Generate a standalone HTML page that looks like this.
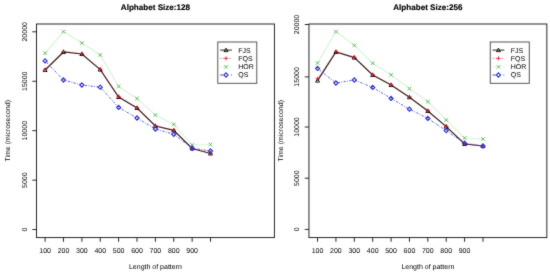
<!DOCTYPE html>
<html><head><meta charset="utf-8"><title>Alphabet Size plots</title><style>
html,body{margin:0;padding:0;background:#fff;width:550px;height:275px;overflow:hidden}
svg{display:block}
text{font-family:"Liberation Sans",Arial,Helvetica,sans-serif;fill:#000;text-rendering:geometricPrecision}
</style></head><body>
<svg width="550" height="275" viewBox="0 0 550 275">
<defs><filter id="bl" x="0" y="0" width="550" height="275" filterUnits="userSpaceOnUse" color-interpolation-filters="sRGB"><feConvolveMatrix order="3" kernelMatrix="1 2 1 2 24 2 1 2 1" edgeMode="duplicate" preserveAlpha="false"/></filter></defs>
<g filter="url(#bl)">
<rect width="550" height="275" fill="#fff"/>
<g>
<text x="155.45" y="9.85" font-size="8.1" font-weight="bold" text-anchor="middle" stroke="#000" stroke-width="0.15">Alphabet Size:128</text>
<polyline points="45.1,70 63.48,52 81.86,54 100.24,69.6 118.62,97 137,108 155.38,126 173.76,130.4 192.14,148.5 210.52,153.5" fill="none" stroke="#222222" stroke-width="1.2" stroke-opacity="1"/>
<path d="M45.1,68.1L47.09,71.52L43.11,71.52Z" fill="none" stroke="#000000" stroke-width="0.9"/><path d="M63.48,50.1L65.48,53.52L61.49,53.52Z" fill="none" stroke="#000000" stroke-width="0.9"/><path d="M81.86,52.1L83.86,55.52L79.86,55.52Z" fill="none" stroke="#000000" stroke-width="0.9"/><path d="M100.24,67.7L102.24,71.12L98.25,71.12Z" fill="none" stroke="#000000" stroke-width="0.9"/><path d="M118.62,95.1L120.62,98.52L116.62,98.52Z" fill="none" stroke="#000000" stroke-width="0.9"/><path d="M137,106.1L139,109.52L135,109.52Z" fill="none" stroke="#000000" stroke-width="0.9"/><path d="M155.38,124.1L157.38,127.52L153.38,127.52Z" fill="none" stroke="#000000" stroke-width="0.9"/><path d="M173.76,128.5L175.75,131.92L171.76,131.92Z" fill="none" stroke="#000000" stroke-width="0.9"/><path d="M192.14,146.6L194.13,150.02L190.14,150.02Z" fill="none" stroke="#000000" stroke-width="0.9"/><path d="M210.52,151.6L212.51,155.02L208.52,155.02Z" fill="none" stroke="#000000" stroke-width="0.9"/>

<polyline points="45.1,69.6 63.48,51.4 81.86,53.6 100.24,69.2 118.62,96.6 137,107.6 155.38,125.6 173.76,130 192.14,148.2 210.52,153.2" fill="none" stroke="#ff2020" stroke-width="0.9" stroke-opacity="0.5" stroke-dasharray="2,1.4"/>
<path d="M43,69.6H47.2M45.1,67.5V71.7" stroke="#dd1a2a" stroke-width="0.8" fill="none"/><path d="M61.38,51.4H65.58M63.48,49.3V53.5" stroke="#dd1a2a" stroke-width="0.8" fill="none"/><path d="M79.76,53.6H83.96M81.86,51.5V55.7" stroke="#dd1a2a" stroke-width="0.8" fill="none"/><path d="M98.14,69.2H102.34M100.24,67.1V71.3" stroke="#dd1a2a" stroke-width="0.8" fill="none"/><path d="M116.52,96.6H120.72M118.62,94.5V98.7" stroke="#dd1a2a" stroke-width="0.8" fill="none"/><path d="M134.9,107.6H139.1M137,105.5V109.7" stroke="#dd1a2a" stroke-width="0.8" fill="none"/><path d="M153.28,125.6H157.48M155.38,123.5V127.7" stroke="#dd1a2a" stroke-width="0.8" fill="none"/><path d="M171.66,130H175.86M173.76,127.9V132.1" stroke="#dd1a2a" stroke-width="0.8" fill="none"/><path d="M190.04,148.2H194.24M192.14,146.1V150.3" stroke="#dd1a2a" stroke-width="0.8" fill="none"/><path d="M208.42,153.2H212.62M210.52,151.1V155.3" stroke="#dd1a2a" stroke-width="0.8" fill="none"/>

<polyline points="45.1,53.2 63.48,31.6 81.86,43 100.24,55 118.62,86.4 137,98.6 155.38,115 173.76,124.4 192.14,145 210.52,144.5" fill="none" stroke="#e3f6e3" stroke-width="1.6" stroke-opacity="1"/>
<path d="M43.25,51.35L46.95,55.05M43.25,55.05L46.95,51.35" stroke="#3cb43c" stroke-width="0.8" fill="none"/><path d="M61.63,29.75L65.33,33.45M61.63,33.45L65.33,29.75" stroke="#3cb43c" stroke-width="0.8" fill="none"/><path d="M80.01,41.15L83.71,44.85M80.01,44.85L83.71,41.15" stroke="#3cb43c" stroke-width="0.8" fill="none"/><path d="M98.39,53.15L102.09,56.85M98.39,56.85L102.09,53.15" stroke="#3cb43c" stroke-width="0.8" fill="none"/><path d="M116.77,84.55L120.47,88.25M116.77,88.25L120.47,84.55" stroke="#3cb43c" stroke-width="0.8" fill="none"/><path d="M135.15,96.75L138.85,100.45M135.15,100.45L138.85,96.75" stroke="#3cb43c" stroke-width="0.8" fill="none"/><path d="M153.53,113.15L157.23,116.85M153.53,116.85L157.23,113.15" stroke="#3cb43c" stroke-width="0.8" fill="none"/><path d="M171.91,122.55L175.61,126.25M171.91,126.25L175.61,122.55" stroke="#3cb43c" stroke-width="0.8" fill="none"/><path d="M190.29,143.15L193.99,146.85M190.29,146.85L193.99,143.15" stroke="#3cb43c" stroke-width="0.8" fill="none"/><path d="M208.67,142.65L212.37,146.35M208.67,146.35L212.37,142.65" stroke="#3cb43c" stroke-width="0.8" fill="none"/>

<polyline points="45.1,60.9 63.48,80 81.86,85 100.24,87.2 118.62,107.4 137,118 155.38,129 173.76,134.3 192.14,148.2 210.52,151" fill="none" stroke="#3a3ad8" stroke-width="1.0" stroke-opacity="0.85" stroke-dasharray="0.8,1.4,2.2,1.4"/>
<path d="M45.1,58.8L47.2,60.9L45.1,63L43,60.9Z" stroke="#3030cc" stroke-width="1.1" fill="none"/><path d="M63.48,77.9L65.58,80L63.48,82.1L61.38,80Z" stroke="#3030cc" stroke-width="1.1" fill="none"/><path d="M81.86,82.9L83.96,85L81.86,87.1L79.76,85Z" stroke="#3030cc" stroke-width="1.1" fill="none"/><path d="M100.24,85.1L102.34,87.2L100.24,89.3L98.14,87.2Z" stroke="#3030cc" stroke-width="1.1" fill="none"/><path d="M118.62,105.3L120.72,107.4L118.62,109.5L116.52,107.4Z" stroke="#3030cc" stroke-width="1.1" fill="none"/><path d="M137,115.9L139.1,118L137,120.1L134.9,118Z" stroke="#3030cc" stroke-width="1.1" fill="none"/><path d="M155.38,126.9L157.48,129L155.38,131.1L153.28,129Z" stroke="#3030cc" stroke-width="1.1" fill="none"/><path d="M173.76,132.2L175.86,134.3L173.76,136.4L171.66,134.3Z" stroke="#3030cc" stroke-width="1.1" fill="none"/><path d="M192.14,146.1L194.24,148.2L192.14,150.3L190.04,148.2Z" stroke="#3030cc" stroke-width="1.1" fill="none"/><path d="M210.52,148.9L212.62,151L210.52,153.1L208.42,151Z" stroke="#3030cc" stroke-width="1.1" fill="none"/>

<rect x="36.5" y="24.0" width="237.9" height="213.6" fill="none" stroke="#111" stroke-width="0.9"/>
<path d="M32.3,31.8H36.5" stroke="#111" stroke-width="0.9"/>
<text transform="translate(26.7,31.8) rotate(-90)" font-size="7.0" text-anchor="middle">20000</text>
<path d="M32.3,81.25H36.5" stroke="#111" stroke-width="0.9"/>
<text transform="translate(26.7,81.25) rotate(-90)" font-size="7.0" text-anchor="middle">15000</text>
<path d="M32.3,130.7H36.5" stroke="#111" stroke-width="0.9"/>
<text transform="translate(26.7,130.7) rotate(-90)" font-size="7.0" text-anchor="middle">10000</text>
<path d="M32.3,180.15H36.5" stroke="#111" stroke-width="0.9"/>
<text transform="translate(26.7,180.15) rotate(-90)" font-size="7.0" text-anchor="middle">5000</text>
<path d="M32.3,229.55H36.5" stroke="#111" stroke-width="0.9"/>
<text transform="translate(26.7,229.55) rotate(-90)" font-size="7.0" text-anchor="middle">0</text>
<path d="M45.1,237.6V241.8" stroke="#111" stroke-width="0.9"/>
<text x="45.1" y="252.6" font-size="7.0" text-anchor="middle">100</text>
<path d="M63.48,237.6V241.8" stroke="#111" stroke-width="0.9"/>
<text x="63.48" y="252.6" font-size="7.0" text-anchor="middle">200</text>
<path d="M81.86,237.6V241.8" stroke="#111" stroke-width="0.9"/>
<text x="81.86" y="252.6" font-size="7.0" text-anchor="middle">300</text>
<path d="M100.24,237.6V241.8" stroke="#111" stroke-width="0.9"/>
<text x="100.24" y="252.6" font-size="7.0" text-anchor="middle">400</text>
<path d="M118.62,237.6V241.8" stroke="#111" stroke-width="0.9"/>
<text x="118.62" y="252.6" font-size="7.0" text-anchor="middle">500</text>
<path d="M137,237.6V241.8" stroke="#111" stroke-width="0.9"/>
<text x="137" y="252.6" font-size="7.0" text-anchor="middle">600</text>
<path d="M155.38,237.6V241.8" stroke="#111" stroke-width="0.9"/>
<text x="155.38" y="252.6" font-size="7.0" text-anchor="middle">700</text>
<path d="M173.76,237.6V241.8" stroke="#111" stroke-width="0.9"/>
<text x="173.76" y="252.6" font-size="7.0" text-anchor="middle">800</text>
<path d="M192.14,237.6V241.8" stroke="#111" stroke-width="0.9"/>
<text x="192.14" y="252.6" font-size="7.0" text-anchor="middle">900</text>
<path d="M210.52,237.6V241.8" stroke="#111" stroke-width="0.9"/>
<text x="155.45" y="269" font-size="7.0" text-anchor="middle">Length of pattern</text>
<text transform="translate(10.4,130.8) rotate(-90)" font-size="7.0" text-anchor="middle">Time (microsecond)</text>
<rect x="217.8" y="42.0" width="39" height="41.3" fill="#fff" stroke="#444" stroke-width="0.9"/>
<path d="M220.1,50.1H231.9" stroke="#2a2a2a" stroke-width="1.0" stroke-opacity="1"/>
<path d="M226,48.2L228,51.62L224,51.62Z" fill="none" stroke="#000000" stroke-width="0.9"/>
<text x="238.3" y="52.55" font-size="7.0">FJS</text>
<path d="M220.1,58.4H231.9" stroke="#ff3030" stroke-width="0.9" stroke-opacity="0.75" stroke-dasharray="1.4,1.6"/>
<path d="M223.9,58.4H228.1M226,56.3V60.5" stroke="#dd1a2a" stroke-width="0.8" fill="none"/>
<text x="238.3" y="60.85" font-size="7.0">FQS</text>
<path d="M220.1,66.8H231.9" stroke="#c8ecc8" stroke-width="1.0" stroke-opacity="1" stroke-dasharray="1,1.5"/>
<path d="M224.15,64.95L227.85,68.65M224.15,68.65L227.85,64.95" stroke="#3cb43c" stroke-width="0.8" fill="none"/>
<text x="238.3" y="69.25" font-size="7.0">HOR</text>
<path d="M220.1,75H231.9" stroke="#3a3ad8" stroke-width="1.0" stroke-opacity="0.9" stroke-dasharray="3.2,7.6,1,5"/>
<path d="M226,72.9L228.1,75L226,77.1L223.9,75Z" stroke="#3030cc" stroke-width="1.1" fill="none"/>
<text x="238.3" y="77.45" font-size="7.0">QS</text>
</g>
<g transform="translate(272.45,0)">
<text x="155.45" y="9.85" font-size="8.1" font-weight="bold" text-anchor="middle" stroke="#000" stroke-width="0.15">Alphabet Size:256</text>
<polyline points="45.1,80.6 63.48,52 81.86,57.6 100.24,75 118.62,85 137,97.2 155.38,111 173.76,126.6 192.14,144 210.52,146" fill="none" stroke="#222222" stroke-width="1.2" stroke-opacity="1"/>
<path d="M45.1,78.7L47.09,82.12L43.11,82.12Z" fill="none" stroke="#000000" stroke-width="0.9"/><path d="M63.48,50.1L65.48,53.52L61.49,53.52Z" fill="none" stroke="#000000" stroke-width="0.9"/><path d="M81.86,55.7L83.86,59.12L79.86,59.12Z" fill="none" stroke="#000000" stroke-width="0.9"/><path d="M100.24,73.1L102.24,76.52L98.25,76.52Z" fill="none" stroke="#000000" stroke-width="0.9"/><path d="M118.62,83.1L120.62,86.52L116.62,86.52Z" fill="none" stroke="#000000" stroke-width="0.9"/><path d="M137,95.3L139,98.72L135,98.72Z" fill="none" stroke="#000000" stroke-width="0.9"/><path d="M155.38,109.1L157.38,112.52L153.38,112.52Z" fill="none" stroke="#000000" stroke-width="0.9"/><path d="M173.76,124.7L175.75,128.12L171.76,128.12Z" fill="none" stroke="#000000" stroke-width="0.9"/><path d="M192.14,142.1L194.13,145.52L190.14,145.52Z" fill="none" stroke="#000000" stroke-width="0.9"/><path d="M210.52,144.1L212.51,147.52L208.52,147.52Z" fill="none" stroke="#000000" stroke-width="0.9"/>

<polyline points="45.1,78.6 63.48,51.4 81.86,57.2 100.24,74.6 118.62,84.6 137,96.8 155.38,110.6 173.76,126.2 192.14,143.6 210.52,146" fill="none" stroke="#ff2020" stroke-width="0.9" stroke-opacity="0.5" stroke-dasharray="2,1.4"/>
<path d="M43,78.6H47.2M45.1,76.5V80.7" stroke="#dd1a2a" stroke-width="0.8" fill="none"/><path d="M61.38,51.4H65.58M63.48,49.3V53.5" stroke="#dd1a2a" stroke-width="0.8" fill="none"/><path d="M79.76,57.2H83.96M81.86,55.1V59.3" stroke="#dd1a2a" stroke-width="0.8" fill="none"/><path d="M98.14,74.6H102.34M100.24,72.5V76.7" stroke="#dd1a2a" stroke-width="0.8" fill="none"/><path d="M116.52,84.6H120.72M118.62,82.5V86.7" stroke="#dd1a2a" stroke-width="0.8" fill="none"/><path d="M134.9,96.8H139.1M137,94.7V98.9" stroke="#dd1a2a" stroke-width="0.8" fill="none"/><path d="M153.28,110.6H157.48M155.38,108.5V112.7" stroke="#dd1a2a" stroke-width="0.8" fill="none"/><path d="M171.66,126.2H175.86M173.76,124.1V128.3" stroke="#dd1a2a" stroke-width="0.8" fill="none"/><path d="M190.04,143.6H194.24M192.14,141.5V145.7" stroke="#dd1a2a" stroke-width="0.8" fill="none"/><path d="M208.42,146H212.62M210.52,143.9V148.1" stroke="#dd1a2a" stroke-width="0.8" fill="none"/>

<polyline points="45.1,63 63.48,31.6 81.86,45.4 100.24,63.2 118.62,74.8 137,88.6 155.38,101.6 173.76,120 192.14,138 210.52,139" fill="none" stroke="#e3f6e3" stroke-width="1.6" stroke-opacity="1"/>
<path d="M43.25,61.15L46.95,64.85M43.25,64.85L46.95,61.15" stroke="#3cb43c" stroke-width="0.8" fill="none"/><path d="M61.63,29.75L65.33,33.45M61.63,33.45L65.33,29.75" stroke="#3cb43c" stroke-width="0.8" fill="none"/><path d="M80.01,43.55L83.71,47.25M80.01,47.25L83.71,43.55" stroke="#3cb43c" stroke-width="0.8" fill="none"/><path d="M98.39,61.35L102.09,65.05M98.39,65.05L102.09,61.35" stroke="#3cb43c" stroke-width="0.8" fill="none"/><path d="M116.77,72.95L120.47,76.65M116.77,76.65L120.47,72.95" stroke="#3cb43c" stroke-width="0.8" fill="none"/><path d="M135.15,86.75L138.85,90.45M135.15,90.45L138.85,86.75" stroke="#3cb43c" stroke-width="0.8" fill="none"/><path d="M153.53,99.75L157.23,103.45M153.53,103.45L157.23,99.75" stroke="#3cb43c" stroke-width="0.8" fill="none"/><path d="M171.91,118.15L175.61,121.85M171.91,121.85L175.61,118.15" stroke="#3cb43c" stroke-width="0.8" fill="none"/><path d="M190.29,136.15L193.99,139.85M190.29,139.85L193.99,136.15" stroke="#3cb43c" stroke-width="0.8" fill="none"/><path d="M208.67,137.15L212.37,140.85M208.67,140.85L212.37,137.15" stroke="#3cb43c" stroke-width="0.8" fill="none"/>

<polyline points="45.1,68.4 63.48,83 81.86,80 100.24,87.4 118.62,98.4 137,109.2 155.38,118.4 173.76,130.6 192.14,143.2 210.52,146" fill="none" stroke="#3a3ad8" stroke-width="1.0" stroke-opacity="0.85" stroke-dasharray="0.8,1.4,2.2,1.4"/>
<path d="M45.1,66.3L47.2,68.4L45.1,70.5L43,68.4Z" stroke="#3030cc" stroke-width="1.1" fill="none"/><path d="M63.48,80.9L65.58,83L63.48,85.1L61.38,83Z" stroke="#3030cc" stroke-width="1.1" fill="none"/><path d="M81.86,77.9L83.96,80L81.86,82.1L79.76,80Z" stroke="#3030cc" stroke-width="1.1" fill="none"/><path d="M100.24,85.3L102.34,87.4L100.24,89.5L98.14,87.4Z" stroke="#3030cc" stroke-width="1.1" fill="none"/><path d="M118.62,96.3L120.72,98.4L118.62,100.5L116.52,98.4Z" stroke="#3030cc" stroke-width="1.1" fill="none"/><path d="M137,107.1L139.1,109.2L137,111.3L134.9,109.2Z" stroke="#3030cc" stroke-width="1.1" fill="none"/><path d="M155.38,116.3L157.48,118.4L155.38,120.5L153.28,118.4Z" stroke="#3030cc" stroke-width="1.1" fill="none"/><path d="M173.76,128.5L175.86,130.6L173.76,132.7L171.66,130.6Z" stroke="#3030cc" stroke-width="1.1" fill="none"/><path d="M192.14,141.1L194.24,143.2L192.14,145.3L190.04,143.2Z" stroke="#3030cc" stroke-width="1.1" fill="none"/><path d="M210.52,143.9L212.62,146L210.52,148.1L208.42,146Z" stroke="#3030cc" stroke-width="1.1" fill="none"/>

<rect x="36.5" y="24.0" width="237.9" height="213.6" fill="none" stroke="#111" stroke-width="0.9"/>
<path d="M32.3,24.5H36.5" stroke="#111" stroke-width="0.9"/>
<text transform="translate(26.7,24.5) rotate(-90)" font-size="7.0" text-anchor="middle">20000</text>
<path d="M32.3,76.9H36.5" stroke="#111" stroke-width="0.9"/>
<text transform="translate(26.7,76.9) rotate(-90)" font-size="7.0" text-anchor="middle">15000</text>
<path d="M32.3,127H36.5" stroke="#111" stroke-width="0.9"/>
<text transform="translate(26.7,127) rotate(-90)" font-size="7.0" text-anchor="middle">10000</text>
<path d="M32.3,178.2H36.5" stroke="#111" stroke-width="0.9"/>
<text transform="translate(26.7,178.2) rotate(-90)" font-size="7.0" text-anchor="middle">5000</text>
<path d="M32.3,229.4H36.5" stroke="#111" stroke-width="0.9"/>
<text transform="translate(26.7,229.4) rotate(-90)" font-size="7.0" text-anchor="middle">0</text>
<path d="M45.1,237.6V241.8" stroke="#111" stroke-width="0.9"/>
<text x="45.1" y="252.6" font-size="7.0" text-anchor="middle">100</text>
<path d="M63.48,237.6V241.8" stroke="#111" stroke-width="0.9"/>
<text x="63.48" y="252.6" font-size="7.0" text-anchor="middle">200</text>
<path d="M81.86,237.6V241.8" stroke="#111" stroke-width="0.9"/>
<text x="81.86" y="252.6" font-size="7.0" text-anchor="middle">300</text>
<path d="M100.24,237.6V241.8" stroke="#111" stroke-width="0.9"/>
<text x="100.24" y="252.6" font-size="7.0" text-anchor="middle">400</text>
<path d="M118.62,237.6V241.8" stroke="#111" stroke-width="0.9"/>
<text x="118.62" y="252.6" font-size="7.0" text-anchor="middle">500</text>
<path d="M137,237.6V241.8" stroke="#111" stroke-width="0.9"/>
<text x="137" y="252.6" font-size="7.0" text-anchor="middle">600</text>
<path d="M155.38,237.6V241.8" stroke="#111" stroke-width="0.9"/>
<text x="155.38" y="252.6" font-size="7.0" text-anchor="middle">700</text>
<path d="M173.76,237.6V241.8" stroke="#111" stroke-width="0.9"/>
<text x="173.76" y="252.6" font-size="7.0" text-anchor="middle">800</text>
<path d="M192.14,237.6V241.8" stroke="#111" stroke-width="0.9"/>
<text x="192.14" y="252.6" font-size="7.0" text-anchor="middle">900</text>
<path d="M210.52,237.6V241.8" stroke="#111" stroke-width="0.9"/>
<text x="155.45" y="269" font-size="7.0" text-anchor="middle">Length of pattern</text>
<text transform="translate(10.4,130.8) rotate(-90)" font-size="7.0" text-anchor="middle">Time (microsecond)</text>
<rect x="217.8" y="42.0" width="39" height="41.3" fill="#fff" stroke="#444" stroke-width="0.9"/>
<path d="M220.1,50.1H231.9" stroke="#2a2a2a" stroke-width="1.0" stroke-opacity="1"/>
<path d="M226,48.2L228,51.62L224,51.62Z" fill="none" stroke="#000000" stroke-width="0.9"/>
<text x="238.3" y="52.55" font-size="7.0">FJS</text>
<path d="M220.1,58.4H231.9" stroke="#ff3030" stroke-width="0.9" stroke-opacity="0.75" stroke-dasharray="1.4,1.6"/>
<path d="M223.9,58.4H228.1M226,56.3V60.5" stroke="#dd1a2a" stroke-width="0.8" fill="none"/>
<text x="238.3" y="60.85" font-size="7.0">FQS</text>
<path d="M220.1,66.8H231.9" stroke="#c8ecc8" stroke-width="1.0" stroke-opacity="1" stroke-dasharray="1,1.5"/>
<path d="M224.15,64.95L227.85,68.65M224.15,68.65L227.85,64.95" stroke="#3cb43c" stroke-width="0.8" fill="none"/>
<text x="238.3" y="69.25" font-size="7.0">HOR</text>
<path d="M220.1,75H231.9" stroke="#3a3ad8" stroke-width="1.0" stroke-opacity="0.9" stroke-dasharray="3.2,7.6,1,5"/>
<path d="M226,72.9L228.1,75L226,77.1L223.9,75Z" stroke="#3030cc" stroke-width="1.1" fill="none"/>
<text x="238.3" y="77.45" font-size="7.0">QS</text>
</g>
</g>
</svg>
</body></html>
